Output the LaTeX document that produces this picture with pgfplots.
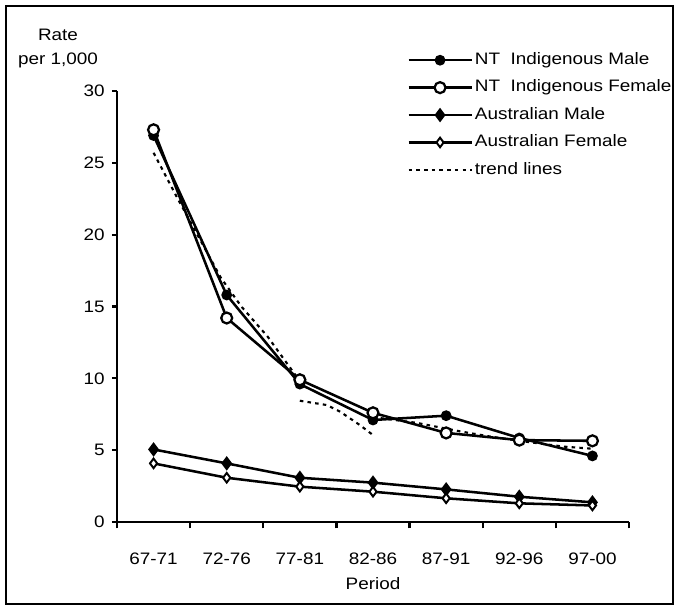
\documentclass[border=0pt]{standalone}
\usepackage{fontspec}
\setmainfont{Liberation Sans}[FakeStretch=1.14]
\usepackage{pgfplots}
\pgfplotsset{compat=1.18}

\begin{document}
\fontsize{11.8}{14}\selectfont
\begin{tikzpicture}
\path[use as bounding box] (-2.925,-2.1) rectangle (14.05,13.05);
\draw[line width=1.6pt, black] (-2.775,-2.05) rectangle (13.9,12.9);
\node at (-1.475,12.175) {Rate};
\node at (-1.475,11.55) {per 1,000};
\begin{axis}[
  at={(0,0)}, anchor=south west,
  scale only axis, width=12.8cm, height=10.775cm,
  xmin=-0.5, xmax=6.5, ymin=0, ymax=30,
  clip=false,
  /pgf/number format/assume math mode=true,
  axis x line*=bottom, axis y line*=left,
  axis line style={line width=1.9pt, -},
  xtick={0,...,6},
  xticklabels={67-71,72-76,77-81,82-86,87-91,92-96,97-00},
  major x tick style={draw=none},
  minor xtick={-0.5,0.5,...,6.5},
  ytick={0,5,...,30},
  tick align=outside,
  tick style={line width=1.6pt, black},
  major tick length=0.13cm, minor tick length=0.16cm,
  xticklabel style={anchor=center, yshift=-0.8cm},
  yticklabel style={anchor=east, xshift=-1pt},
  xlabel={Period},
  every axis x label/.style={at={(rel axis cs:0.5,0)}, anchor=center, yshift=-1.55cm},
  legend style={at={(rel axis cs:0.5664,1.09)}, anchor=north west,
    draw=none, fill=none, inner sep=0pt, row sep=8.5pt,
    nodes={inner sep=0pt, text height=8.5pt, text depth=2.5pt},
    /tikz/every odd column/.style={column sep=1.5pt}},
  legend cell align=left,
  legend image code/.code={\draw[mark repeat=2, mark phase=2]
    plot coordinates {(0cm,0cm) (0.7875cm,0cm) (1.575cm,0cm)};},
  every axis plot/.append style={black, line width=1.8pt},
]
\addplot[mark=*, mark size=2.9pt] coordinates {
  (0,26.9) (1,15.8) (2,9.6) (3,7.1) (4,7.4) (5,5.85) (6,4.6)};
\addlegendentry{NT\ \ Indigenous Male}
\addplot[mark=*, mark size=3.9pt, mark options={fill=white, line width=1.6pt}] coordinates {
  (0,27.3) (1,14.2) (2,9.9) (3,7.6) (4,6.2) (5,5.7) (6,5.65)};
\addlegendentry{NT\ \ Indigenous Female}
\addplot[mark=diamond*, mark size=3.7pt] coordinates {
  (0,5.05) (1,4.08) (2,3.08) (3,2.74) (4,2.27) (5,1.76) (6,1.37)};
\addlegendentry{Australian Male}
\addplot[mark=diamond*, mark size=3.4pt, mark options={fill=white, line width=1.4pt}] coordinates {
  (0,4.08) (1,3.08) (2,2.46) (3,2.11) (4,1.65) (5,1.3) (6,1.15)};
\addlegendentry{Australian Female}
% trend lines
\addplot[line width=1.5pt, dash pattern=on 2.5pt off 3pt] coordinates {
  (0,25.7) (0.32,22.6) (0.92,17.0) (1.2,15.0) (1.56,12.9) (2,9.8)};
\addlegendentry{trend lines}
\addplot[forget plot, line width=1.5pt, dash pattern=on 2.5pt off 3pt] coordinates {
  (2,8.44) (2.37,8.14) (2.55,7.68) (2.82,6.75) (3,6.05)};
\addplot[forget plot, line width=1.5pt, dash pattern=on 2.5pt off 3pt] coordinates {
  (3,7.3) (3.6,6.9) (4.2,6.3) (4.6,5.95) (5,5.65) (5.6,5.25) (6,5.1)};
\end{axis}
\end{tikzpicture}
\end{document}
